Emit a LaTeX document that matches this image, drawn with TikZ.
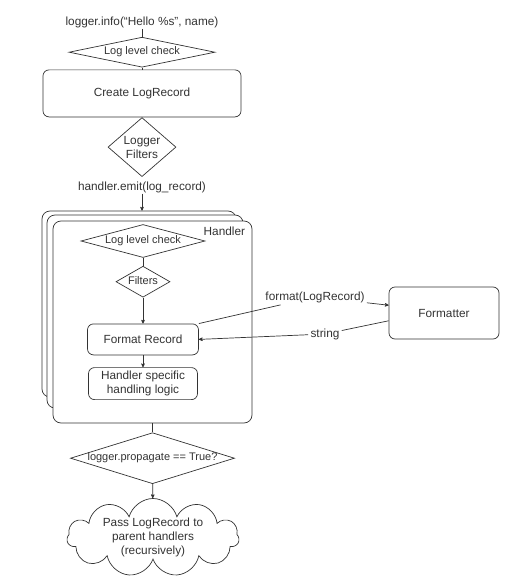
\documentclass[tikz,border=0pt]{standalone}
\usepackage{fontspec}
\setmainfont{Liberation Sans}
\usetikzlibrary{arrows.meta, positioning, shapes.geometric, shapes.symbols}
\definecolor{ink}{HTML}{333333}
\tikzstyle{flow}=[x=1pt, y=-1pt, color=ink, line width=0.7pt, >={Stealth[round,length=5pt,width=4.5pt]}, font=\fontsize{11.8}{14}\selectfont]
\tikzstyle{box}=[draw, rounded corners=6pt, fill=white, inner sep=0pt, align=center]
\tikzstyle{card}=[draw, rounded corners=8pt, fill=white, inner sep=0pt]
\tikzstyle{check}=[draw, diamond, inner sep=0pt]
\tikzstyle{flat}=[check, text height=7pt, text depth=2pt, font=\fontsize{11}{13}\selectfont]
\tikzstyle{txt}=[inner sep=0pt, text height=8pt, text depth=3pt]
\tikzstyle{tag}=[inner sep=2pt]
\tikzstyle{bubble}=[draw, cloud, cloud puffs=11, cloud ignores aspect, inner sep=-10pt, align=center]

\begin{document}
\begin{tikzpicture}[flow]
  \useasboundingbox (0,0) rectangle (516,586);
  \node[txt] (info) at (142,23) {logger.info(“Hello \%s", name)};
  \node[flat, minimum width=146pt, minimum height=30pt, aspect=4.87] (chk) [below=8pt of info] {Log level check};
  \node[box, minimum width=198pt, minimum height=47pt] (mk) [below=2pt of chk] {Create LogRecord};
  \node[check, minimum width=68pt, minimum height=59pt, aspect=1.15, align=center] (lf) [below=0pt of mk] {Logger\\Filters};
  \node[txt] (emit) [below=5pt of lf] {handler.emit(log\_record)};

  \node[card, minimum width=194pt, minimum height=186pt] (hd3) at (139,304) {};
  \node[card, minimum width=196pt, minimum height=193pt] (hd2) at (145,311.5) {};
  \node[card, minimum width=199pt, minimum height=202pt] (hd) at (152.5,322) {};
  \node[txt] (hdl) [below left=6pt and 7pt of hd.north east] {Handler};
  \node[flat, minimum width=124pt, minimum height=33pt, aspect=3.75] (ichk) at (143,241) {Log level check};
  \node[flat, minimum width=54pt, minimum height=31pt, aspect=1.74] (ifil) [below=8pt of ichk] {Filters};
  \node[box, minimum width=111pt, minimum height=31pt] (fr) [below=26pt of ifil] {Format Record};
  \node[box, minimum width=109pt, minimum height=32pt] (hs) [below=12pt of fr] {Handler specific\\handling logic};

  \node[box, minimum width=110pt, minimum height=52pt] (fmt) at (444,313) {Formatter};
  \node[tag] (fmtl) at (315,297) {format(LogRecord)};
  \node[tag] (strl) at (325,334) {string};

  \node[flat, minimum width=164pt, minimum height=51pt, aspect=3.2] (prop) [below=9pt of hd] {logger.propagate == True?};
  \node[bubble, minimum width=172pt, minimum height=78pt] (up) at (153,537.5) {Pass LogRecord to\\parent handlers\\(recursively)};

  \draw (info) -- (chk);
  \draw (chk) -- (mk);
  \draw[->] (emit) -- (emit |- hd3.north);
  \draw (ichk) -- (ifil);
  \draw[->] (ifil) -- (fr);
  \draw[->] (fr) -- (hs);
  \draw[->] (fr.north east) -- (fmtl) -- (fmt.172);
  \draw[->] (fmt.188) -- (strl) -- (fr.east);
  \draw (hd) -- (prop);
  \draw[->] (prop) -- (up);
\end{tikzpicture}
\end{document}
